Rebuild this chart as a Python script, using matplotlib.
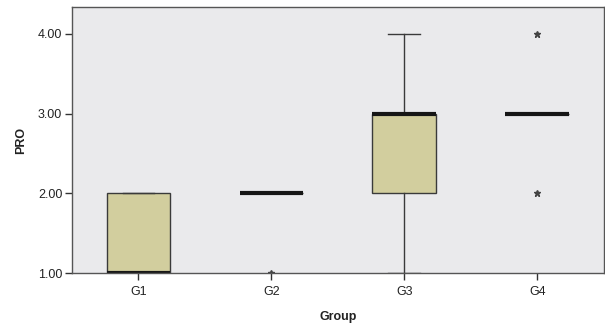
import numpy as np
import matplotlib.pyplot as plt

# boxplot statistics
groups = ['G1', 'G2', 'G3', 'G4']
q1 = [1.0, 2.0, 2.0, 3.0]
med = [1.0, 2.0, 3.0, 3.0]
q3 = [2.0, 2.0, 3.0, 3.0]
whislo = [1.0, 2.0, 1.0, 3.0]
whishi = [2.0, 2.0, 4.0, 3.0]
outliers = [[], [1.0], [], [2.0, 4.0]]

plt.rcParams['font.family'] = ['Liberation Sans', 'DejaVu Sans']

stats = []
for i, g in enumerate(groups):
    stats.append(dict(label=g, q1=q1[i], med=med[i], q3=q3[i],
                      whislo=whislo[i], whishi=whishi[i], fliers=outliers[i]))

fig = plt.figure(figsize=(6.05, 3.27), dpi=100)
ax = fig.add_axes([0.119, 0.165, 0.879, 0.814])
ax.set_facecolor('#EAEAEC')

edge = '#3a3a3a'
ax.bxp(stats, positions=np.arange(1, 5), widths=0.48, patch_artist=True,
       boxprops=dict(facecolor='#D2CE9E', edgecolor=edge, linewidth=1.0),
       medianprops=dict(color='#161616', linewidth=3.0, solid_capstyle='butt'),
       whiskerprops=dict(color=edge, linewidth=1.0),
       capprops=dict(color=edge, linewidth=1.0),
       capwidths=0.24,
       flierprops=dict(marker='*', markersize=5, markerfacecolor='#444444',
                       markeredgecolor='#444444', linestyle='none'))

ax.set_xlim(0.5, 4.5)
ax.set_ylim(1.0, 4.34)
ax.set_yticks([1, 2, 3, 4])
ax.set_yticklabels(['1.00', '2.00', '3.00', '4.00'])
ax.set_xticks(np.arange(1, 5))
ax.set_xticklabels(groups)
ax.tick_params(axis='both', direction='out', length=5, width=1.0, colors='#333333',
               labelsize=9, labelcolor='#222222', pad=2)
ax.tick_params(axis='x', pad=4)
for s in ax.spines.values():
    s.set_color('#555555')
    s.set_linewidth(1.0)

ax.set_ylabel('PRO', fontsize=9, fontweight='bold', color='#222222', labelpad=8)
ax.set_xlabel('Group', fontsize=9, fontweight='bold', color='#222222', labelpad=10)

fig.savefig('out.png', dpi=100)
